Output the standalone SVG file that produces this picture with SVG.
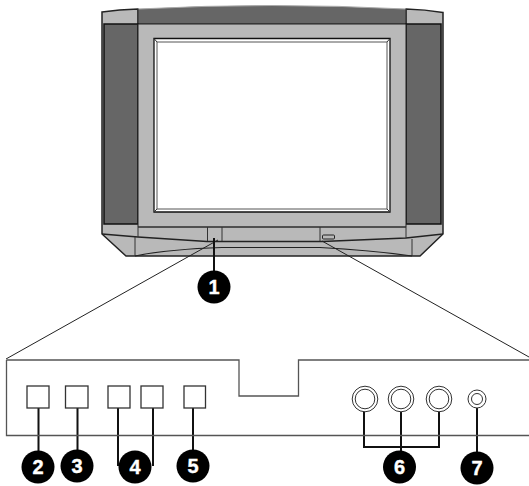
<svg xmlns="http://www.w3.org/2000/svg" width="529" height="486" viewBox="0 0 529 486">
<style>
.lg{fill:#b9b9b9;stroke:#222;stroke-width:1}
.dg{fill:#666;stroke:#111;stroke-width:1.5}
.ln{fill:none;stroke:#333;stroke-width:1}
.hv{fill:none;stroke:#222;stroke-width:1.5}
.pn{fill:none;stroke:#555;stroke-width:1.3}
.sq{fill:#fff;stroke:#333;stroke-width:1.3}
.ring{fill:#fff;stroke:#333;stroke-width:1}
.ld{fill:none;stroke:#111;stroke-width:2}
.lead{fill:none;stroke:#222;stroke-width:1}
.bd{fill:#000}
.nm{fill:#fff;stroke:#fff;stroke-width:.4;font:bold 20px "Liberation Sans",Arial,sans-serif;text-anchor:middle}
</style>
<g id="tv">
<path class="lg" style="stroke-width:1.5" d="M102 12Q119 9.500 138 9L138 24L406 24L406 9Q425 9.500 443 12.500L443 234L420 256L126 256L102 234Z"/>
<path d="M138 9Q272 2 406 9L406 24L138 24Z" fill="#666"/>
<path d="M138 9Q272 2 406 9" fill="none" stroke="#aaa" stroke-width="1"/>
<path class="ln" style="stroke-width:1.2" d="M138 9V24M406 9V24M138 24H406"/>
<rect class="dg" x="104" y="24" width="34" height="200"/>
<rect class="dg" x="406" y="24" width="35" height="200"/>
<path class="lg" d="M138 24H406V227H138Z"/>
<path d="M154 38.500H390L390 212H154Z" fill="#fff" stroke="#111" stroke-width="1.3"/>
<path d="M157 42H387V209H157Z" fill="#fff" stroke="#555" stroke-width="1"/>
<path class="ln" d="M154 38.500L157 42M390 38.500L387 42M154 212L157 209M390 212L387 209"/>
<path class="hv" d="M102 234L138 237L207 241.500H322L406 238L443 234"/>
<path class="ln" d="M138 227V237M406 227V238M138 227H406"/>
<path class="ln" d="M135 237V256M412 239V256"/>
<path class="hv" style="stroke-width:1.2" d="M135 256Q170 249 222 247.500L320 247.500Q370 250 412 256"/>
<path class="ln" d="M207.500 227V241M222 227V241M320 227V241"/>
<rect x="322.500" y="235" width="12" height="4" rx="1" fill="#b9b9b9" stroke="#222" stroke-width="1"/>
</g>
<g id="connectors">
<path class="lead" d="M218 240L6 359M322 241L529 357"/>
<path class="ld" d="M214 238V272M38.500 408V452M77.500 408V452M118 408V466M153 408V466M193 408V452M364 410V447H439V410M401 412V452M477 408V452"/>
</g>
<g id="panel">
<path class="pn" d="M6.500 360H239V396H298.500V360H529M6.500 360V435.500H529"/>
</g>
<g id="button-2"><rect class="sq" x="27" y="386" width="22" height="22"/></g>
<g id="button-3"><rect class="sq" x="65.500" y="386" width="22.500" height="22"/></g>
<g id="button-4a"><rect class="sq" x="108" y="386" width="22" height="22"/></g>
<g id="button-4b"><rect class="sq" x="141" y="386" width="22" height="22"/></g>
<g id="button-5"><rect class="sq" x="184" y="386" width="21.500" height="22"/></g>
<g id="jack-6a"><circle class="ring" cx="365" cy="399" r="12.800"/><circle class="ring" cx="365" cy="399" r="9.800"/></g>
<g id="jack-6b"><circle class="ring" cx="401" cy="399" r="12.800"/><circle class="ring" cx="401" cy="399" r="9.800"/></g>
<g id="jack-6c"><circle class="ring" cx="439" cy="399" r="12.800"/><circle class="ring" cx="439" cy="399" r="9.800"/></g>
<g id="jack-7"><circle class="ring" cx="477" cy="399" r="9"/><circle class="ring" cx="477" cy="399" r="5.500"/></g>
<g id="label-1"><circle class="bd" cx="214" cy="287" r="16.500"/><text class="nm" x="214" y="294">1</text></g>
<g id="label-2"><circle class="bd" cx="38" cy="467" r="16.500"/><text class="nm" x="38" y="474">2</text></g>
<g id="label-3"><circle class="bd" cx="77" cy="466" r="16.500"/><text class="nm" x="77" y="473">3</text></g>
<g id="label-4"><circle class="bd" cx="135" cy="467" r="16.500"/><text class="nm" x="135" y="474">4</text></g>
<g id="label-5"><circle class="bd" cx="193" cy="466" r="16.500"/><text class="nm" x="193" y="473">5</text></g>
<g id="label-6"><circle class="bd" cx="399.500" cy="467" r="16.500"/><text class="nm" x="399.500" y="474">6</text></g>
<g id="label-7"><circle class="bd" cx="477" cy="468" r="16.500"/><text class="nm" x="477" y="475">7</text></g>
</svg>
